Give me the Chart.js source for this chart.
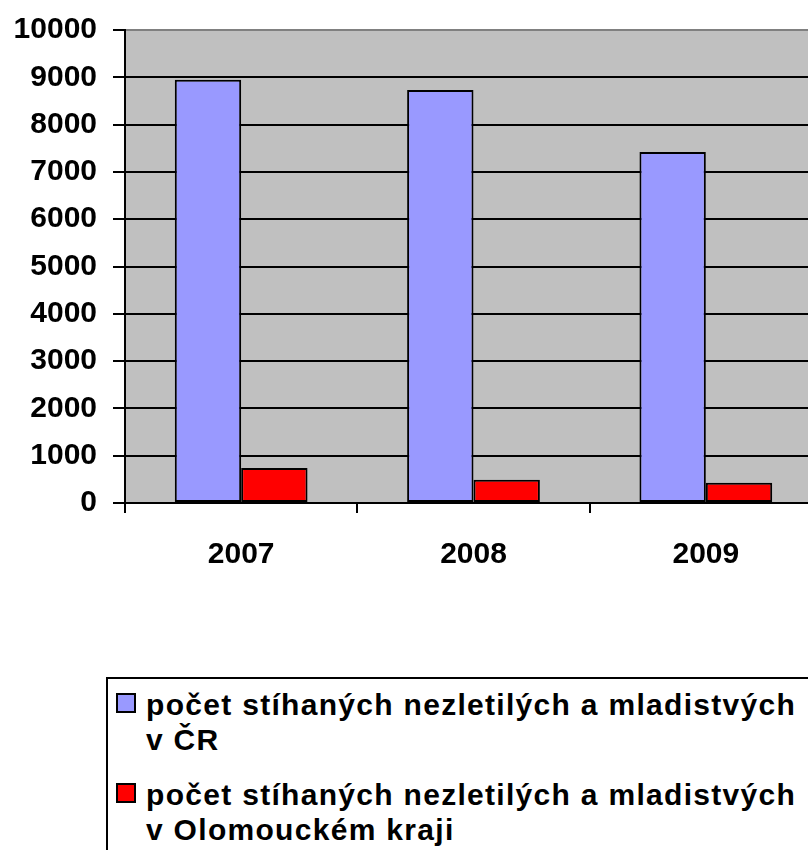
<!DOCTYPE html>
<html>
<head>
<meta charset="utf-8">
<script src="https://cdn.jsdelivr.net/npm/chart.js@4"></script>
<style>
  html, body { margin: 0; padding: 0; background: #fff; overflow: hidden; }
  #page { position: relative; width: 808px; height: 850px; overflow: hidden; }
  #chartBox { position: absolute; left: 0; top: 0; width: 840px; height: 600px; }
  #legend {
    position: absolute; left: 106px; top: 677px; width: 760px; height: 220px;
    border: 2px solid #000; box-sizing: border-box;
    font-family: "Liberation Sans", Arial, sans-serif; font-weight: bold;
    font-size: 30px; letter-spacing: 1.3px; color: #000;
  }
  .item { position: absolute; left: 0; }
  .swatch { position: absolute; left: 8px; width: 16px; height: 16px; border: 2px solid #000; }
  .txt { position: absolute; left: 38px; line-height: 35px; white-space: nowrap; }
</style>
</head>
<body>
<div id="page">
  <div id="chartBox"><canvas id="chart" width="840" height="600"></canvas></div>
  <div id="legend"></div>
</div>
<script>
// ---------------------------------------------------------------------------
// Data
// ---------------------------------------------------------------------------
const YEARS = ["2007", "2008", "2009"];
const CR_LABEL = ["počet stíhaných nezletilých a mladistvých", "v ČR"];
const OLK_LABEL = ["počet stíhaných nezletilých a mladistvých", "v Olomouckém kraji"];
const crValues = [8950, 8730, 7420];
const olkValues = [740, 490, 430];
const Y_TICKS = [0, 1000, 2000, 3000, 4000, 5000, 6000, 7000, 8000, 9000, 10000];

const BLUE = "#9999FF";
const RED = "#FF0000";
const FONT = "'Liberation Sans', Arial, sans-serif";

// gray plot background
const plotBg = {
  id: "plotBg",
  beforeDraw(chart) {
    const { ctx, chartArea: a } = chart;
    ctx.save();
    ctx.fillStyle = "#C0C0C0";
    ctx.fillRect(a.left, a.top, a.right - a.left, a.bottom - a.top);
    ctx.restore();
  }
};

const datasets = [
  { label: CR_LABEL.join(" "), data: crValues, backgroundColor: BLUE },
  { label: OLK_LABEL.join(" "), data: olkValues, backgroundColor: RED },
].map(d => Object.assign(d, {
  borderColor: "#000",
  borderWidth: 2,
  borderSkipped: false,
  categoryPercentage: 2 / 3.5,
  barPercentage: 1,
}));

new Chart(document.getElementById("chart"), {
  type: "bar",
  data: { labels: YEARS, datasets },
  plugins: [plotBg],
  options: {
    responsive: false,
    animation: false,
    devicePixelRatio: 1,
    layout: { padding: { left: 0, top: 30, right: 18, bottom: 17 } },
    plugins: { legend: { display: false }, tooltip: { enabled: false } },
    scales: {
      x: {
        grid: { offset: true, drawOnChartArea: false, drawTicks: true, tickLength: 10, color: "#000", lineWidth: 2 },
        border: { display: true, color: "#000", width: 2 },
        ticks: { color: "#000", padding: 24, font: { family: FONT, size: 30, weight: "bold" } },
        afterFit(scale) { scale.height = 80; },
      },
      y: {
        min: 0, max: 10000,
        afterBuildTicks(scale) { scale.ticks = Y_TICKS.map(v => ({ value: v })); },
        grid: {
          color: ctx => (ctx.tick && ctx.tick.value === 10000 ? "#808080" : "#000"),
          tickColor: "#000",
          lineWidth: 2,
          tickLength: 12,
        },
        border: { display: true, color: "#000", width: 2 },
        ticks: {
          color: "#000", padding: 16,
          font: { family: FONT, size: 30, weight: "bold" },
          callback: v => String(v),
        },
        afterFit(scale) {
          scale.width = 125;
          scale.paddingTop = 0;
          scale.paddingBottom = 0;
        },
      }
    }
  }
});

// ---------------------------------------------------------------------------
// Legend (html, two-line labels)
// ---------------------------------------------------------------------------
const legendItems = [
  { lines: CR_LABEL, color: BLUE, top: 0 },
  { lines: OLK_LABEL, color: RED, top: 90 },
];
document.getElementById("legend").innerHTML = legendItems.map(it => `
  <div class="item" style="top:${it.top}px">
    <div class="swatch" style="background:${it.color};top:14px"></div>
    <div class="txt" style="top:8px">${it.lines.join("<br>")}</div>
  </div>`).join("");
</script>
</body>
</html>
